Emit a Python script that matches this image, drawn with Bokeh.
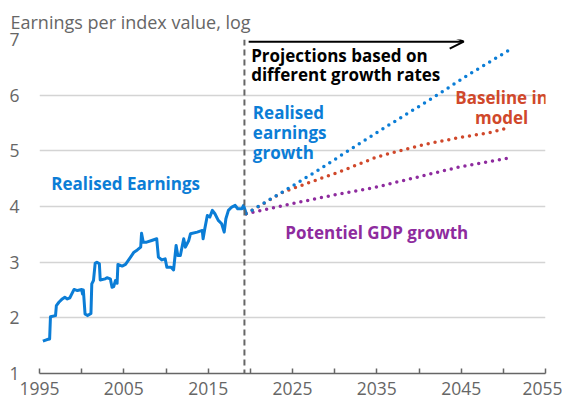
from bokeh.plotting import figure
from bokeh.models import FixedTicker, Span, Arrow, OpenHead, Label
from bokeh.embed import file_html
from bokeh.resources import INLINE

# ---- data ----
real_years = [1995.4, 1995.9, 1996.2, 1996.3, 1996.9, 1997.0, 1997.3, 1997.7, 1998.0, 1998.3,
              1998.6, 1999.1, 1999.5, 2000.0, 2000.1, 2000.2, 2000.4, 2000.7, 2001.1, 2001.2,
              2001.4, 2001.6, 2001.8, 2002.1, 2002.2, 2002.8, 2003.0, 2003.4, 2003.6, 2003.8,
              2004.0, 2004.2, 2004.3, 2004.8, 2005.2, 2005.8, 2006.2, 2006.6, 2007.0, 2007.1,
              2007.3, 2007.7, 2008.3, 2008.9, 2009.1, 2009.5, 2009.9, 2010.1, 2010.6, 2010.9,
              2011.2, 2011.4, 2011.7, 2012.1, 2012.3, 2012.7, 2012.9, 2013.7, 2014.3, 2014.4,
              2014.6, 2014.9, 2015.2, 2015.5, 2015.8, 2016.2, 2016.6, 2016.9, 2017.1, 2017.4,
              2017.8, 2018.2, 2018.5, 2019.0, 2019.2, 2019.5]
real_values = [1.58, 1.61, 1.62, 2.02, 2.04, 2.22, 2.28, 2.34, 2.37, 2.34,
               2.36, 2.51, 2.49, 2.51, 2.43, 2.50, 2.07, 2.04, 2.08, 2.61,
               2.67, 2.98, 3.00, 2.97, 2.68, 2.70, 2.72, 2.70, 2.55, 2.56,
               2.67, 2.62, 2.96, 2.93, 2.96, 3.09, 3.18, 3.22, 3.27, 3.52,
               3.36, 3.36, 3.39, 3.42, 3.09, 3.04, 3.06, 2.91, 2.91, 2.86,
               3.30, 3.12, 3.12, 3.42, 3.27, 3.39, 3.51, 3.54, 3.57, 3.42,
               3.60, 3.84, 3.81, 3.93, 3.87, 3.75, 3.69, 3.54, 3.78, 3.93,
               3.99, 4.02, 3.96, 3.96, 4.02, 3.88]

proj_years_blue = [2019.5, 2023.8, 2027.7, 2031.7, 2036.4, 2041.3, 2045.9, 2050.8]
proj_blue = [3.87, 4.26, 4.62, 5.01, 5.46, 5.92, 6.37, 6.82]
proj_years_red = [2019.5, 2023.9, 2028.1, 2030.7, 2035.0, 2037.4, 2040.5, 2044.5, 2048.5, 2050.8]
proj_red = [3.87, 4.26, 4.49, 4.63, 4.89, 4.99, 5.11, 5.23, 5.33, 5.42]
proj_years_purple = [2019.5, 2024.3, 2029.7, 2035.0, 2037.4, 2044.5, 2050.8]
proj_purple = [3.87, 4.03, 4.20, 4.35, 4.44, 4.70, 4.875]

x_ticks = [1995, 2005, 2015, 2025, 2035, 2045, 2055]
x_minor = [2000, 2010, 2020, 2030, 2040, 2050]
y_ticks = [1, 2, 3, 4, 5, 6, 7]
split_year = 2019.3

BLUE = "#0b7dd6"
RED = "#d0482b"
PURPLE = "#8e2b9e"
GREY = "#666666"
FONT = "Open Sans"

p = figure(frame_width=506, frame_height=334, x_range=(1995, 2055), y_range=(1, 7),
           output_backend="svg", toolbar_location=None,
           min_border_left=39, min_border_right=17, min_border_top=39, min_border_bottom=28)
p.outline_line_color = None
p.background_fill_color = "white"

p.title.text = "Earnings per index value, log"
p.title.text_font = FONT
p.title.text_font_size = "18px"
p.title.text_font_style = "normal"
p.title.text_color = GREY
p.title.align = "left"
p.title.offset = -29
p.title.standoff = 12

# axes
p.xaxis.ticker = FixedTicker(ticks=x_ticks, minor_ticks=x_minor)
p.xaxis.axis_line_color = "#666666"
p.xaxis.axis_line_width = 1.5
p.xaxis.major_tick_in = 5
p.xaxis.major_tick_out = 0
p.xaxis.minor_tick_in = 5
p.xaxis.minor_tick_out = 0
p.xaxis.major_tick_line_color = "#666666"
p.xaxis.minor_tick_line_color = "#666666"
p.xaxis.major_tick_line_width = 1.5
p.xaxis.minor_tick_line_width = 1.5
p.xaxis.major_label_standoff = 8
p.xaxis.major_label_text_font = FONT
p.xaxis.major_label_text_font_size = "17.5px"
p.xaxis.major_label_text_color = GREY

p.yaxis.ticker = FixedTicker(ticks=y_ticks)
p.yaxis.axis_line_color = None
p.yaxis.major_tick_line_color = None
p.yaxis.minor_tick_line_color = None
p.yaxis.major_label_standoff = 14
p.yaxis.major_label_text_font = FONT
p.yaxis.major_label_text_font_size = "17.5px"
p.yaxis.major_label_text_color = GREY

p.xgrid.grid_line_color = None
p.ygrid.grid_line_color = "#d4d4d4"
p.ygrid.grid_line_width = 1.5

# dashed divider
p.add_layout(Span(location=split_year, dimension="height", line_color="#666666",
                  line_width=2, line_dash="6 4"))

# lines
p.line(real_years, real_values, line_color=BLUE, line_width=3, line_join="round")
p.line(proj_years_purple, proj_purple, line_color=PURPLE, line_width=3.5,
       line_dash="0 7", line_cap="round")
p.line(proj_years_red, proj_red, line_color=RED, line_width=3.5,
       line_dash="0 7", line_cap="round")
p.line(proj_years_blue, proj_blue, line_color=BLUE, line_width=3.5,
       line_dash="0 7", line_cap="round")

# arrow
p.add_layout(Arrow(end=OpenHead(size=14, line_width=2, line_color="black"),
                   x_start=2019.8, y_start=6.96, x_end=2045.3, y_end=6.96,
                   line_color="black", line_width=2))

def lab(x, y, t, color, align="left", size="17px"):
    p.add_layout(Label(x=x, y=y, text=t, text_color=color, text_font=FONT,
                       text_font_size=size, text_font_style="bold",
                       text_align=align, text_baseline="middle"))

lab(2020.1, 6.71, "Projections based on", "black")
lab(2020.1, 6.37, "different growth rates", "black")
lab(2020.3, 5.69, "Realised", BLUE)
lab(2020.3, 5.33, "earnings", BLUE)
lab(2020.3, 4.97, "growth", BLUE)
lab(2049.8, 5.96, "Baseline in", RED, align="center")
lab(2049.8, 5.60, "model", RED, align="center")
lab(2024.15, 3.53, "Potentiel GDP growth", PURPLE)
lab(1996.4, 4.41, "Realised Earnings", BLUE)

open("out.html", "w").write(file_html(p, INLINE))
